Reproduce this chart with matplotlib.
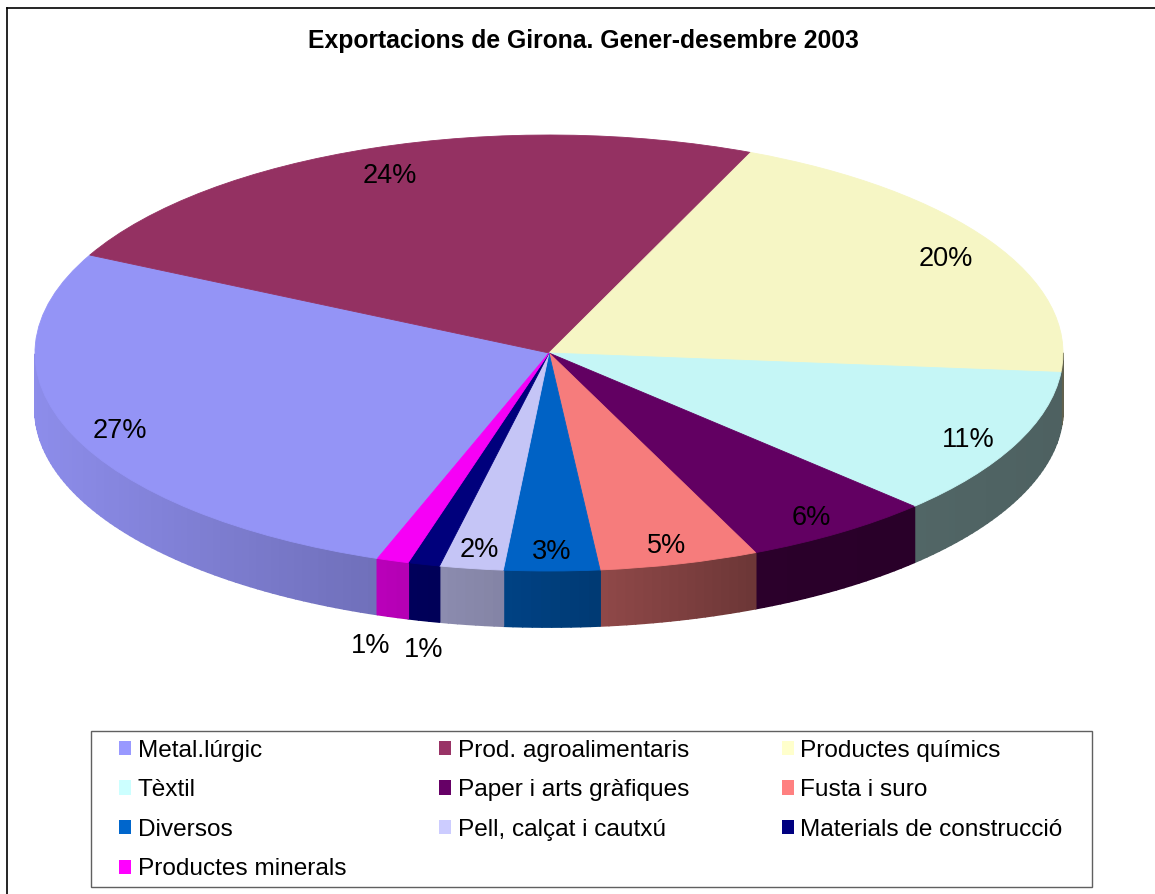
import matplotlib
matplotlib.use("Agg")
from matplotlib import pyplot
from matplotlib.collections import PolyCollection
from matplotlib.colors import to_rgb
from matplotlib.lines import Line2D
from matplotlib.patches import Patch, Rectangle
import numpy

# Data
title = "Exportacions de Girona. Gener-desembre 2003"
sectors = ["Metal.lúrgic", "Prod. agroalimentaris", "Productes químics", "Tèxtil",
           "Paper i arts gràfiques", "Fusta i suro", "Diversos", "Pell, calçat i cautxú",
           "Materials de construcció", "Productes minerals"]
shares = [27, 24, 20, 11, 6, 5, 3, 2, 1, 1]
colors = ["#9999FF", "#993366", "#FFFFCC", "#CCFFFF", "#660066", "#FF8080",
          "#0066CC", "#CCCCFF", "#000080", "#FF00FF"]

pyplot.rcParams["font.family"] = ["Liberation Sans", "DejaVu Sans"]

W, H = 1155, 894
figure = pyplot.figure(figsize=(W / 100, H / 100), dpi=100)

# Pie geometry (pixels): centre, radii of the ellipse and thickness of the wall
cx, cy, rx, ry, depth = 549, 353, 514, 218, 56
d = depth / ry

axis = figure.add_axes([0, 0, 1, 1])
topColors = [tuple(c * 0.965 for c in to_rgb(col)) for col in colors]
wedges, _ = axis.pie(shares, colors=topColors, startangle=-109.5, counterclock=False,
                     radius=1, wedgeprops=dict(linewidth=0.6, zorder=3))
for w in wedges:
    w.set_edgecolor(w.get_facecolor())

axis.set_xlim((0 - cx) / rx, (W - cx) / rx)
axis.set_ylim((cy - H) / ry, cy / ry)
axis.set_aspect("auto")
axis.axis("off")

# Side wall, shaded darker towards the right
shadeX = [-1, -0.34, -0.04, 0.13, 0.41, 1.0]
shadeF = [0.92, 0.73, 0.63, 0.55, 0.42, 0.38]
polys, faces = [], []
for w, col in zip(wedges, colors):
    n = max(2, int((w.theta2 - w.theta1) / 1.0) + 1)
    a = numpy.radians(numpy.linspace(w.theta1, w.theta2, n))
    for a1, a2 in zip(a[:-1], a[1:]):
        if numpy.sin((a1 + a2) / 2) >= 0:
            continue
        x1, y1, x2, y2 = numpy.cos(a1), numpy.sin(a1), numpy.cos(a2), numpy.sin(a2)
        polys.append([(x1, y1), (x2, y2), (x2, y2 - d), (x1, y1 - d)])
        f = numpy.interp((x1 + x2) / 2, shadeX, shadeF)
        faces.append(tuple(c * f for c in to_rgb(col)))
axis.add_collection(PolyCollection(polys, facecolors=faces, edgecolors=faces,
                                   linewidths=1.3, zorder=2))

# Percentage labels
prevX = None
for w, v in zip(wedges, shares):
    mid = numpy.radians((w.theta1 + w.theta2) / 2)
    if v > 1:
        x, y = 0.9 * numpy.cos(mid), 0.89 * numpy.sin(mid) - 0.025
    else:
        x, y = numpy.cos(mid), numpy.sin(mid) - d - 0.136
        if prevX is not None and abs(x - prevX) < 0.09:
            x = prevX - 0.103
        prevX = x
    axis.text(x, y, f"{v}%", ha="center", va="center", fontsize=19.5, zorder=5)

# Title
figure.text(583 / W, 1 - 41 / H, title, ha="center", va="center",
            fontsize=17.8, fontweight="bold")

# Legend (row-wise order like the original)
order = [0, 3, 6, 9, 1, 4, 7, 2, 5, 8]
handles = [Patch(facecolor=colors[i], edgecolor="none", label=sectors[i]) for i in order]
figure.legend(handles=handles, ncol=3, loc="center left",
              bbox_to_anchor=(119 / W, 1 - 810 / H), borderaxespad=0, borderpad=0,
              frameon=False, fontsize=17.6, handlelength=0.51, handleheight=0.51,
              handletextpad=0.25, labelspacing=0.72, columnspacing=3.8)
figure.add_artist(Rectangle((91 / W, 1 - 887 / H), (1092 - 91) / W, (887 - 731) / H,
                            transform=figure.transFigure, fill=False,
                            edgecolor="#606060", linewidth=1.0))

# Outer chart border (runs off the right and bottom)
figure.add_artist(Line2D([7 / W, 1], [1 - 8 / H, 1 - 8 / H], transform=figure.transFigure,
                         color="black", linewidth=1.2))
figure.add_artist(Line2D([7 / W, 7 / W], [0, 1 - 8 / H], transform=figure.transFigure,
                         color="black", linewidth=1.2))

pyplot.savefig("out.png", dpi=100)
